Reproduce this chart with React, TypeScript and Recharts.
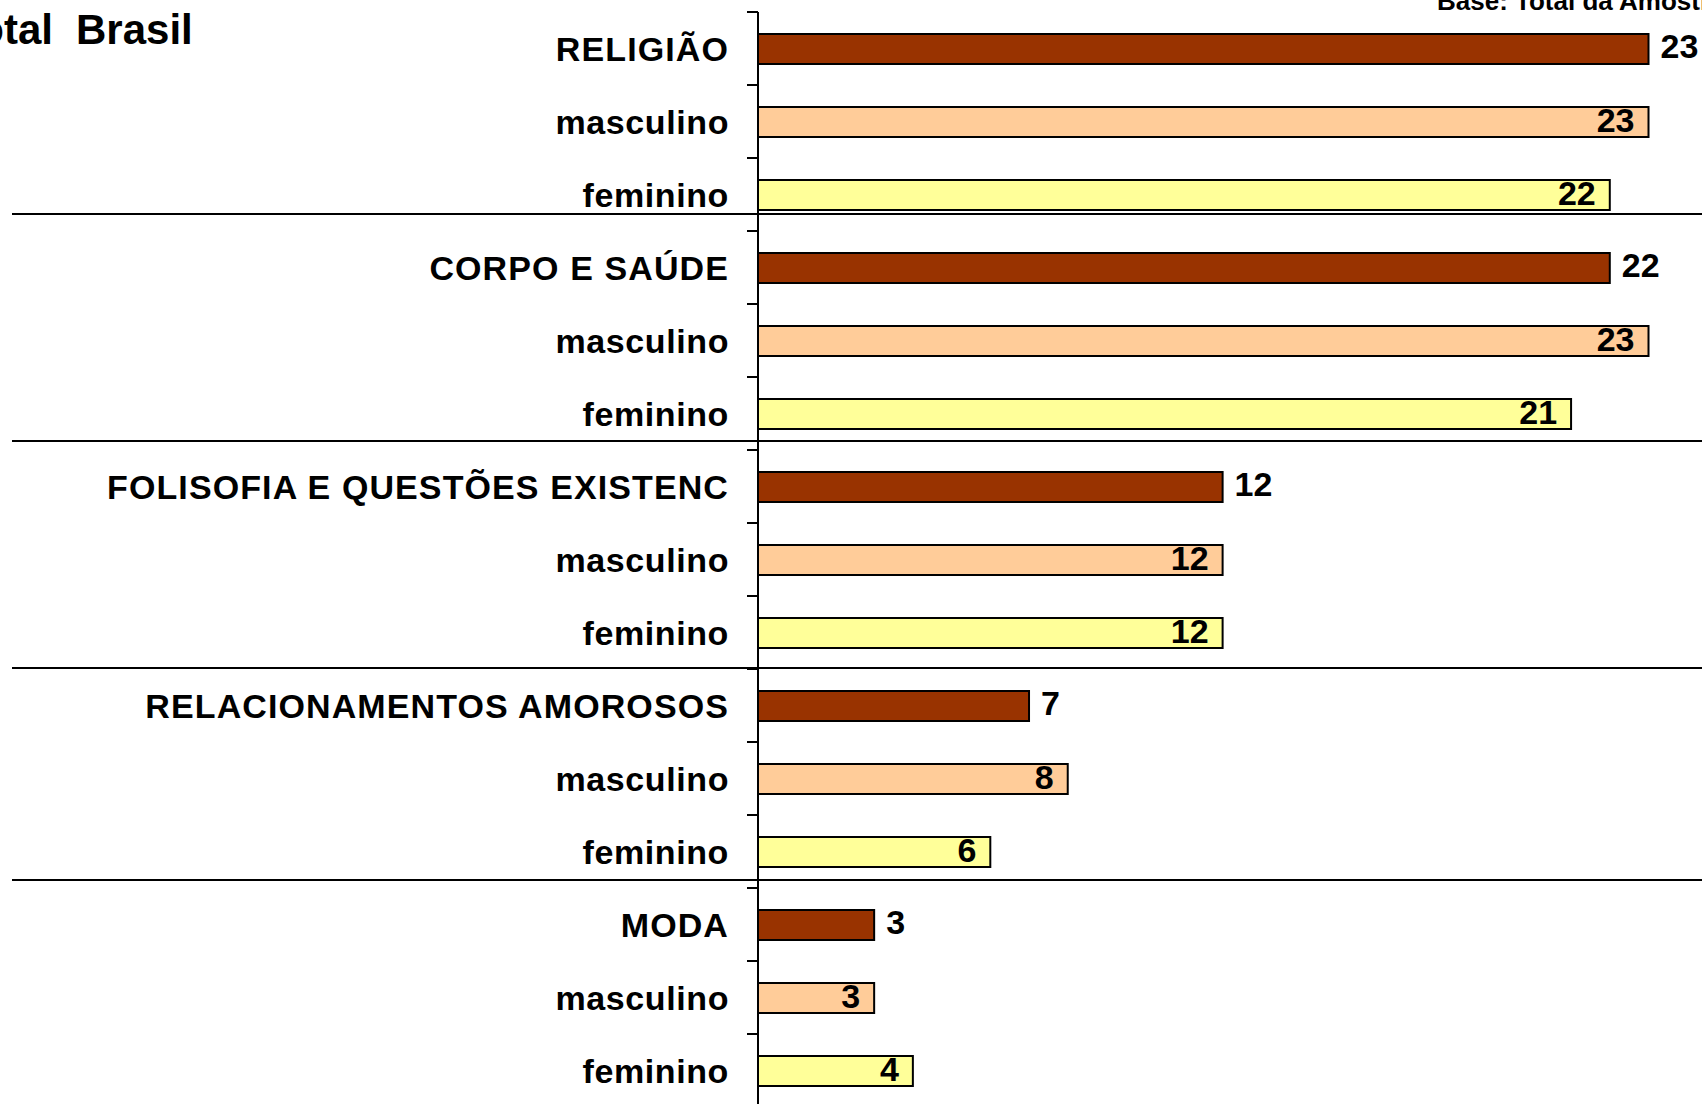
import React from "react"
import { BarChart, Bar, XAxis, YAxis, LabelList, Cell } from "recharts"

// rows top to bottom: topic, then masculino / feminino
const labels = [
  "RELIGIÃO", "masculino", "feminino",
  "CORPO E SAÚDE", "masculino", "feminino",
  "FOLISOFIA E QUESTÕES EXISTENC", "masculino", "feminino",
  "RELACIONAMENTOS AMOROSOS", "masculino", "feminino",
  "MODA", "masculino", "feminino",
]
const values = [23, 23, 22, 22, 23, 21, 12, 12, 12, 7, 8, 6, 3, 3, 4]
const rowTypes = [
  "total", "m", "f",
  "total", "m", "f",
  "total", "m", "f",
  "total", "m", "f",
  "total", "m", "f",
]

const colors: Record<string, string> = { total: "#993300", m: "#FFCC99", f: "#FFFF99" }
const FONT = "'Liberation Sans', Arial, sans-serif"

const data = labels.map((label, i) => ({ key: String(i), label, value: values[i], type: rowTypes[i] }))

const separators = [214, 441, 668, 880]
const AXIS_X = 758
const BAND = 73

const ValueLabel = (props: any) => {
  const { x, y, width, height, value, index } = props
  const outside = rowTypes[index] === "total"
  const end = x + width
  return (
    <text
      x={outside ? end + 12 : end - 14}
      y={y + height / 2 + (outside ? 9 : 10)}
      textAnchor={outside ? "start" : "end"}
      fontFamily={FONT}
      fontWeight="bold"
      fontSize={34}
      fill="#000"
    >
      {value}
    </text>
  )
}

// label at band centre, tick mark at the band's top edge (as in the original)
const RowTick = (props: any) => {
  const { y, payload } = props
  const i = payload.index
  return (
    <g>
      <line x1={AXIS_X - 11} x2={AXIS_X} y1={y - BAND / 2} y2={y - BAND / 2} stroke="#000" strokeWidth={2} />
      <text
        x={AXIS_X - 29}
        y={y + 12}
        textAnchor="end"
        fontFamily={FONT}
        fontWeight="bold"
        fontSize={34}
        letterSpacing={i % 3 === 0 ? 1.1 : 0.6}
        fill="#000"
      >
        {labels[i]}
      </text>
    </g>
  )
}

const App = () => {
  return (
    <div style={{ position: "absolute", left: 0, top: 0, width: 1702, height: 1104, overflow: "hidden", background: "#fff" }}>
      <BarChart
        width={1702}
        height={1110}
        data={data}
        layout="vertical"
        margin={{ top: 12, right: 2, left: 0, bottom: 3 }}
      >
        <XAxis type="number" domain={[0, 24.33]} hide />
        <YAxis
          type="category"
          dataKey="key"
          width={758}
          tick={<RowTick />}
          tickLine={false}
          axisLine={{ stroke: "#000", strokeWidth: 2 }}
          interval={0}
        />
        <Bar dataKey="value" barSize={30} stroke="#000" strokeWidth={2} isAnimationActive={false}>
          {data.map((d, i) => (
            <Cell key={`c-${i}`} fill={colors[d.type]} />
          ))}
          <LabelList dataKey="value" content={<ValueLabel />} />
        </Bar>
      </BarChart>
      <svg width={1702} height={1104} style={{ position: "absolute", left: 0, top: 0, pointerEvents: "none" }}>
        {separators.map((y) => (
          <line key={y} x1={12} x2={1702} y1={y} y2={y} stroke="#000" strokeWidth={2} />
        ))}
        <text x={53} y={44} textAnchor="end" fontFamily={FONT} fontWeight="bold" fontSize={42} fill="#000">
          Total
        </text>
        <text x={76} y={44} fontFamily={FONT} fontWeight="bold" fontSize={42} fill="#000">
          Brasil
        </text>
        <text x={1437} y={10} fontFamily={FONT} fontWeight="bold" fontSize={26} fill="#000">
          Base: Total da Amostra
        </text>
      </svg>
    </div>
  )
}

export default App
